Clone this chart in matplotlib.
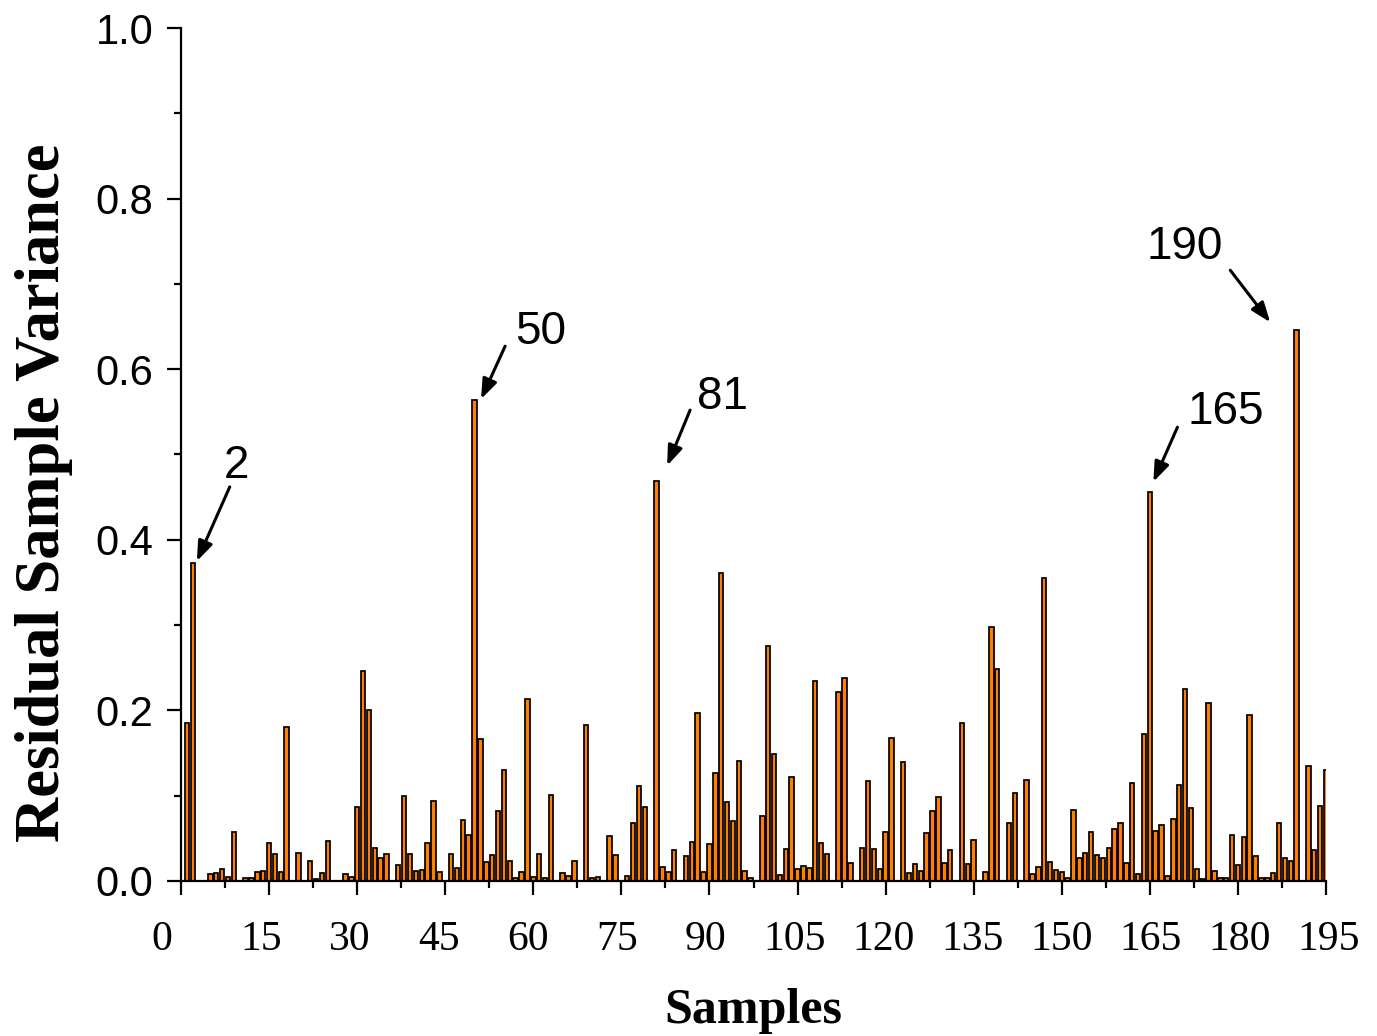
import matplotlib
matplotlib.use("Agg")
import matplotlib.pyplot as plt
from matplotlib.ticker import MultipleLocator
import matplotlib.transforms as mtransforms
import numpy as np

# sample index 1..195
samples = list(range(1, 196))
variance = [
    0.185, 0.373, 0.000, 0.000, 0.008, 0.009, 0.014, 0.005, 0.057, 0.000,   # 1-10
    0.004, 0.004, 0.010, 0.012, 0.044, 0.032, 0.010, 0.180, 0.000, 0.033,   # 11-20
    0.000, 0.023, 0.002, 0.009, 0.047, 0.000, 0.000, 0.008, 0.005, 0.087,   # 21-30
    0.246, 0.201, 0.039, 0.027, 0.032, 0.000, 0.019, 0.100, 0.032, 0.012,   # 31-40
    0.013, 0.044, 0.094, 0.011, 0.000, 0.032, 0.015, 0.071, 0.054, 0.564,   # 41-50
    0.167, 0.022, 0.030, 0.082, 0.130, 0.024, 0.004, 0.010, 0.213, 0.005,   # 51-60
    0.032, 0.004, 0.101, 0.000, 0.009, 0.006, 0.023, 0.000, 0.183, 0.004,   # 61-70
    0.005, 0.000, 0.053, 0.030, 0.000, 0.006, 0.068, 0.111, 0.087, 0.000,   # 71-80
    0.469, 0.016, 0.010, 0.036, 0.000, 0.029, 0.046, 0.197, 0.011, 0.043,   # 81-90
    0.127, 0.361, 0.093, 0.070, 0.141, 0.012, 0.004, 0.000, 0.076, 0.275,   # 91-100
    0.149, 0.007, 0.037, 0.122, 0.014, 0.017, 0.015, 0.235, 0.044, 0.032,   # 101-110
    0.000, 0.222, 0.238, 0.021, 0.000, 0.039, 0.117, 0.037, 0.014, 0.057,   # 111-120
    0.168, 0.000, 0.140, 0.009, 0.020, 0.012, 0.056, 0.082, 0.098, 0.021,   # 121-130
    0.036, 0.000, 0.185, 0.020, 0.048, 0.000, 0.010, 0.298, 0.249, 0.000,   # 131-140
    0.068, 0.103, 0.000, 0.118, 0.008, 0.016, 0.355, 0.022, 0.013, 0.010,   # 141-150
    0.003, 0.083, 0.027, 0.033, 0.057, 0.030, 0.027, 0.039, 0.061, 0.068,   # 151-160
    0.021, 0.115, 0.008, 0.172, 0.456, 0.059, 0.066, 0.006, 0.073, 0.113,   # 161-170
    0.225, 0.085, 0.014, 0.002, 0.209, 0.012, 0.004, 0.004, 0.054, 0.019,   # 171-180
    0.051, 0.195, 0.029, 0.004, 0.003, 0.009, 0.068, 0.027, 0.023, 0.646,   # 181-190
    0.000, 0.135, 0.036, 0.088, 0.130,                                      # 191-195
]

# annotations: label, text position, arrow tail, arrow head (data coords)
ann_labels = ["2", "50", "81", "165", "190"]
ann_text = [(9.4, 0.487), (61.2, 0.644), (92.3, 0.567), (177.9, 0.550), (171.0, 0.743)]
ann_tail = [(8.3, 0.462), (55.2, 0.627), (86.7, 0.552), (169.7, 0.532), (178.7, 0.716)]
ann_head = [(2.7, 0.375), (51.1, 0.565), (82.8, 0.487), (165.6, 0.468), (185.5, 0.655)]

xticks = list(range(0, 196, 15))
xtick_labels = [str(v) for v in xticks]
yticks = [0.0, 0.2, 0.4, 0.6, 0.8, 1.0]
ytick_labels = [f"{v:.1f}" for v in yticks]

fig = plt.figure(figsize=(13.77, 10.36), dpi=100)
ax = fig.add_axes([181/1377, 1 - 881/1036, (1326-181)/1377, (881-28)/1036])

ax.bar(samples, variance, width=0.76, color="#FF8000", edgecolor="black",
       linewidth=1.25, zorder=2)

ax.set_xlim(0, 195)
ax.set_ylim(0, 1.0)
ax.spines["top"].set_visible(False)
ax.spines["right"].set_visible(False)
for s in ["left", "bottom"]:
    ax.spines[s].set_linewidth(1.6)

ax.set_xticks(xticks)
ax.set_xticklabels([])
ax.set_yticks(yticks)
ax.set_yticklabels(ytick_labels, family="Liberation Sans", fontsize=30)
ax.xaxis.set_minor_locator(MultipleLocator(7.5))
ax.yaxis.set_minor_locator(MultipleLocator(0.1))
ax.tick_params(axis="both", which="major", direction="out", length=10, width=1.6)
ax.tick_params(axis="both", which="minor", direction="out", length=5, width=1.6)
ax.tick_params(axis="y", which="major", pad=10)

# x tick labels drawn as text (slightly offset like the original's placement)
blend = mtransforms.blended_transform_factory(ax.transData, ax.transAxes)
for v, lab in zip(xticks, xtick_labels):
    dx_px = -19.0 if v == 0 else (-9.25 + 0.06 * v)
    tr = blend + mtransforms.ScaledTranslation(dx_px / 100.0, 0, fig.dpi_scale_trans)
    ax.text(v, -0.0809, lab, transform=tr, family="Liberation Serif", fontsize=30,
            ha="center", va="baseline", clip_on=False)

ax.set_ylabel("Residual Sample Variance", family="Liberation Serif", fontweight="bold",
              fontsize=45)
ax.yaxis.set_label_coords(-0.094, 0.455)
ax.set_xlabel("Samples", family="Liberation Serif", fontweight="bold", fontsize=36)
ax.xaxis.set_label_coords(0.5, -0.126)

for lab, tp, tl, hd in zip(ann_labels, ann_text, ann_tail, ann_head):
    ax.text(tp[0], tp[1], lab, family="Liberation Sans", fontsize=33,
            ha="center", va="center")
    ax.annotate("", xy=hd, xytext=tl,
                arrowprops=dict(arrowstyle="-|>,head_length=1.2,head_width=0.45",
                                color="black", lw=2.2, shrinkA=0, shrinkB=0))

fig.savefig("out.png", dpi=100)
